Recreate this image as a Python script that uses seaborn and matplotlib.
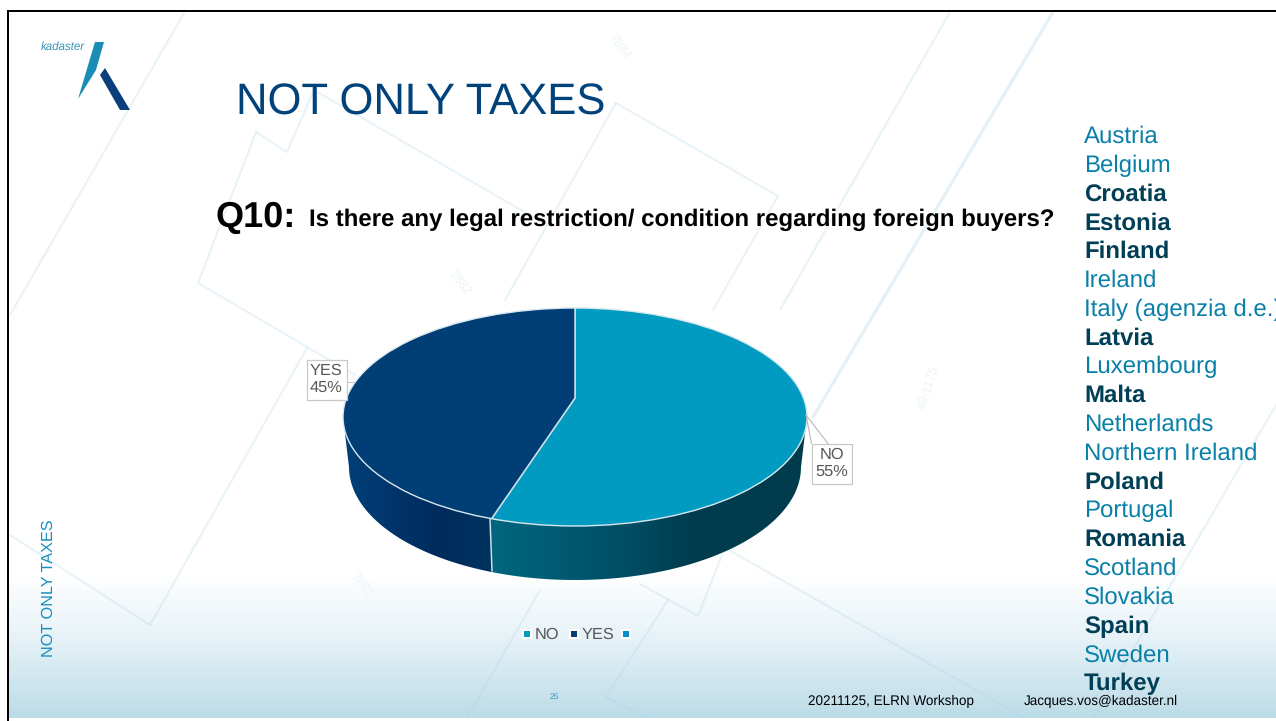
import matplotlib
matplotlib.use('Agg')
import matplotlib.pyplot as plt
import numpy as np
import pandas as pd
import seaborn as sns
from matplotlib.colors import LinearSegmentedColormap
from matplotlib.patches import Ellipse, PathPatch, Polygon, Rectangle
from matplotlib.path import Path

# Chart data
pie_labels = ["NO", "YES"]
pie_values = [55, 45]
legend_labels = ["NO", "YES", ""]
countries = ["Austria", "Belgium", "Croatia", "Estonia", "Finland", "Ireland",
             "Italy (agenzia d.e.)", "Latvia", "Luxembourg", "Malta", "Netherlands",
             "Northern Ireland", "Poland", "Portugal", "Romania", "Scotland",
             "Slovakia", "Spain", "Sweden", "Turkey"]
bold_countries = ["Croatia", "Estonia", "Finland", "Latvia", "Malta", "Poland",
                  "Romania", "Spain", "Turkey"]

W, H = 1276, 721
TEAL = "#019ac0"
NAVY = "#003e75"
PALE = "#c9dfe9"

sns.set_theme(style="white")
plt.rcParams['font.family'] = ['Liberation Sans', 'DejaVu Sans']
plt.rcParams['text.hinting'] = 'no_hinting'

fig = plt.figure(figsize=(W / 100, H / 100), dpi=100, facecolor="white")
ax = fig.add_axes([0, 0, 1, 1], zorder=0)
ax.set_axis_off()


def gradient(colors, box, clip=None, vertical=False, zorder=1):
    cmap = LinearSegmentedColormap.from_list("g", colors)
    ramp = np.linspace(0, 1, 256)
    ramp = ramp.reshape(-1, 1) if vertical else ramp.reshape(1, -1)
    im = ax.imshow(ramp, cmap=cmap, extent=box, aspect="auto", zorder=zorder,
                   origin="upper", vmin=0, vmax=1)
    if clip is not None:
        im.set_clip_path(clip)
    return im


# slide background
gradient([(0, "#ffffff"), (0.62, "#ffffff"), (0.78, "#e8f3f8"), (1, "#bcdce8")],
         (9, W, 718, 340), vertical=True)

parcel_lines = [
    [(184, 13), (10, 315)],
    [(256, 132), (198, 283), (355, 375)],
    [(256, 132), (287, 152), (314, 90), (545, 224)],
    [(616, 103), (505, 300)],
    [(616, 103), (778, 196), (713, 310)],
    [(950, 12), (780, 310)],
    [(307, 348), (150, 625), (10, 535)],
    [(720, 545), (1025, 718)],
    [(1276, 405), (1093, 718)],
    [(722, 555), (698, 616), (640, 584)],
    [(668, 600), (606, 697), (648, 718)],
    [(540, 590), (467, 718)],
]
for line in parcel_lines:
    xs, ys = zip(*line)
    ax.plot(xs, ys, color="#a9d3e4", alpha=0.26, lw=1.5, zorder=2)
ax.plot([1053, 813], [12, 417], color="#a9d3e4", alpha=0.3, lw=2.4, zorder=2)

for txt, x, y, rot in [("7884", 620, 47, -52), ("7882", 460, 283, -52),
                       ("7883", 362, 585, -52), ("49-1175", 928, 388, 72)]:
    ax.text(x, y, txt, color="#edf5f8", fontsize=9, rotation=rot, ha="center",
            va="center", zorder=2)

# slide frame
ax.add_patch(Rectangle((7, 10), W - 7, 2.4, color="black", lw=0, zorder=6))
ax.add_patch(Rectangle((7, 10), 2.2, H - 10, color="black", lw=0, zorder=6))
ax.add_patch(Rectangle((9, 718), W, 3, color="white", lw=0, zorder=5))

# logo
ax.add_patch(Polygon([(95, 42), (104, 42), (96, 70), (78, 99)], color="#1a8db5", lw=0, zorder=3))
ax.add_patch(Polygon([(100, 75), (105, 68), (130, 110), (120, 110)], color="#0b3f7c", lw=0, zorder=3))
ax.text(41, 47, "kadaster", color="#3a93b5", fontsize=8.3, style="italic", va="center", zorder=3)

# headings
ax.text(236, 115, "NOT ONLY TAXES", color="#00427a", fontsize=31.4, va="baseline", zorder=4)
ax.text(216, 227, "Q10:", color="black", fontsize=26, weight="bold", va="baseline", zorder=4)
ax.text(309, 226, "Is there any legal restriction/ condition regarding foreign buyers?",
        color="black", fontsize=17.3, weight="bold", va="baseline", zorder=4)
ax.text(49, 588, "NOT ONLY TAXES", color="#1a8fbd", fontsize=11.7, rotation=90,
        ha="center", va="center", zorder=4)

# country list
for i, name in enumerate(countries):
    bold = name in bold_countries
    ax.text(1084, 143 + i * 28.8, name, fontsize=17.3, va="baseline", clip_on=True,
            color="#003f55" if bold else "#0a80a8", weight="bold" if bold else "normal",
            zorder=4)

# footer
ax.text(554, 697, "25", color="#3a9ac8", fontsize=6, ha="center", va="center", zorder=4)
ax.text(808, 701, "20211125, ELRN Workshop", color="black", fontsize=9.75, va="center", zorder=4)
ax.text(1024, 701, "Jacques.vos@kadaster.nl", color="black", fontsize=9.75, va="center", zorder=4)

# pie side wall
cx, cy, rx, ry = 575, 417, 232, 109
apex_y = 398
bcy, brx, bry = 467, 226, 113
t = np.linspace(np.pi, 0, 120)
wall = [(cx - rx, cy)] + list(zip(cx + brx * np.cos(t), bcy + bry * np.sin(t))) + [(cx + rx, cy), (cx - rx, cy)]
wall_patch = PathPatch(Path(wall), transform=ax.transData, fc="none", ec="none")
ax.add_patch(wall_patch)
gradient([(0, "#00407a"), (0.65, "#002b5c"), (1, "#00335f")], (343, 491, 590, 400),
         clip=wall_patch, zorder=3)
gradient([(0, "#00677f"), (0.45, "#004c63"), (0.62, "#003d4f"), (1, "#003c4c")], (491, 807, 590, 400),
         clip=wall_patch, zorder=3)
ax.plot([490, 492], [519, 571], color=PALE, lw=1.1, zorder=4)

# pie top, drawn around the apex and cut to the ellipse outline
k = 1.5
pie_ax = fig.add_axes([(cx - rx * k) / W, 1 - (apex_y + ry * k) / H, 2 * rx * k / W, 2 * ry * k / H],
                      zorder=1)
wedges, _ = pie_ax.pie(pie_values, colors=[TEAL, NAVY], startangle=90, counterclock=False,
                       radius=3, wedgeprops={"edgecolor": PALE, "linewidth": 1.1})
pie_ax.set_aspect("auto")
pie_ax.set_xlim(-k, k)
pie_ax.set_ylim(-k, k)
pie_ax.set_axis_off()
outline = Ellipse((0, (apex_y - cy) / ry), 2, 2, fc="none", ec="#d8e8ef", lw=1, zorder=5)
pie_ax.add_patch(outline)
for w in wedges:
    w.set_clip_on(True)
    w.set_clip_path(outline)

# data labels
label_ax = fig.add_axes([0, 0, 1, 1], zorder=2)
label_ax.set_axis_off()
label_ax.patch.set_alpha(0)
label_ax.set_xlim(0, W)
label_ax.set_ylim(H, 0)
for (x0, y0, txt, val) in [(306.5, 359.5, "YES", pie_values[1]), (811.5, 443.5, "NO", pie_values[0])]:
    label_ax.add_patch(Rectangle((x0, y0), 40, 40, fc="white", ec="#c8c8c8", lw=0.9))
    label_ax.text(x0 + 20, y0 + 20, f"{txt}\n{val}%", color="#595959", fontsize=11.8,
                  ha="center", va="center", linespacing=1.15)
label_ax.plot([806, 811.5], [415, 443.5], color="#b8b8b8", lw=0.8)
label_ax.plot([806, 828], [415, 443.5], color="#b8b8b8", lw=0.8)
label_ax.plot([346.5, 355], [382, 382], color="#c8c8c8", lw=0.8)

# legend
legend_df = pd.DataFrame({"label": legend_labels, "x": [527, 574, 626], "y": [634, 634, 634]})
legend_df["key"] = legend_df.index.astype(str)
sns.scatterplot(data=legend_df, x="x", y="y", marker="s", s=60, color="white", linewidth=0,
                legend=False, ax=ax, zorder=4)
sns.scatterplot(data=legend_df, x="x", y="y", hue="key", marker="s", s=22, linewidth=0,
                palette=[TEAL, NAVY, "#0a8cc4"], legend=False, ax=ax, zorder=5)
for row in legend_df.itertuples():
    ax.text(row.x + 7.5, row.y + 0.5, row.label, color="#595959", fontsize=11.8, va="center", zorder=5)

ax.set_xlim(0, W)
ax.set_ylim(H, 0)
ax.set_axis_off()

fig.savefig("out.png", dpi=100)
